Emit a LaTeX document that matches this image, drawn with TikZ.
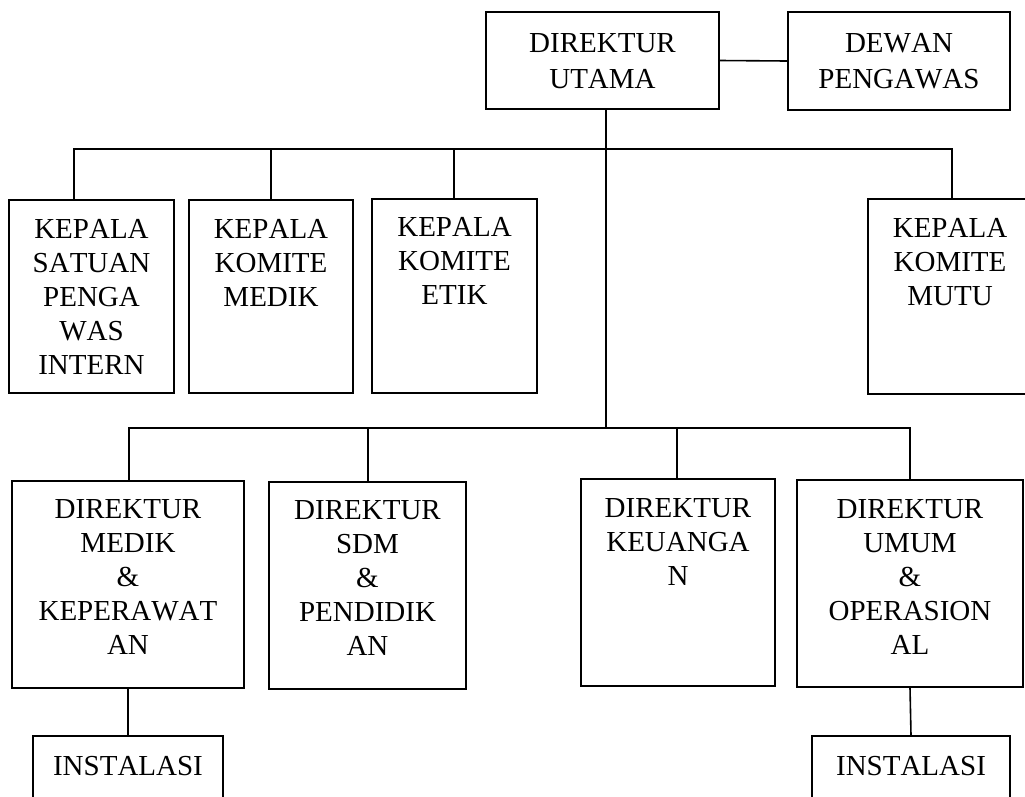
\documentclass[tikz,border=0pt]{standalone}
\usepackage{fontspec}
\setmainfont[Kerning=Off]{Liberation Serif}
\newcommand{\boxtxt}[5][34pt]{\begin{minipage}[t][#3][t]{#2}\fontsize{29pt}{#1}\selectfont\centering\rule{0pt}{#4}#5\end{minipage}}
\begin{document}
\begin{tikzpicture}[x=1pt,y=-1pt,
  orgbox/.style={draw, line width=1.6pt, inner sep=0pt, rectangle},
  conn/.style={line width=1.6pt}]
\clip (0,0) rectangle (1025,796);
\fill[white] (0,0) rectangle (1025,796);
% top level
\node[orgbox] (du) at (602.5,60.5) {\boxtxt[36pt]{233pt}{97pt}{40pt}{DIREKTUR\\UTAMA}};
\node[orgbox] (dewan) at (899,61) {\boxtxt[36pt]{222pt}{98pt}{40pt}{DEWAN\\PENGAWAS}};
% committees
\node[orgbox] (kspi) at (91.5,296.5) {\boxtxt{165pt}{193pt}{38pt}{KEPALA\\SATUAN\\PENGA\\WAS\\INTERN}};
\node[orgbox] (kkm) at (271,296.5) {\boxtxt{164pt}{193pt}{38pt}{KEPALA\\KOMITE\\MEDIK}};
\node[orgbox] (kke) at (454.5,296) {\boxtxt{165pt}{194pt}{37pt}{KEPALA\\KOMITE\\ETIK}};
\node[orgbox] (mutu) at (950,296.5) {\boxtxt{164pt}{195pt}{38pt}{KEPALA\\KOMITE\\MUTU}};
% directors
\node[orgbox] (dmk) at (128,584.5) {\boxtxt{232pt}{207pt}{37pt}{DIREKTUR\\MEDIK\\\&\\KEPERAWAT\\AN}};
\node[orgbox] (dsdm) at (367.5,585.5) {\boxtxt{197pt}{207pt}{37pt}{DIREKTUR\\SDM\\\&\\PENDIDIK\\AN}};
\node[orgbox] (keu) at (678,582.5) {\boxtxt{194pt}{207pt}{38pt}{DIREKTUR\\KEUANGA\\N}};
\node[orgbox] (duo) at (910,583.5) {\boxtxt{226pt}{207pt}{38pt}{DIREKTUR\\UMUM\\\&\\OPERASION\\AL}};
% installations
\node[orgbox] (inst1) at (128,790) {\boxtxt{190pt}{108pt}{39pt}{INSTALASI}};
\node[orgbox] (inst2) at (911,790) {\boxtxt{198pt}{108pt}{39pt}{INSTALASI}};
% bus coordinates
\coordinate (ubL) at (74,149);
\coordinate (u2) at (271,149);
\coordinate (u3) at (454,149);
\coordinate (ubR) at (952,149);
\coordinate (tr) at (606,149);
\coordinate (lb) at (606,428);
\coordinate (lbL) at (129,428);
\coordinate (l2) at (368,428);
\coordinate (l3) at (677,428);
\coordinate (lbR) at (910,428);
% connectors
\draw[conn] (du.east) -- (dewan.west);
\draw[conn] (du.south -| tr) -- (lb);
\draw[conn] (ubL |- kspi.north) -- (ubL) -- (ubR) -- (ubR |- mutu.north);
\draw[conn] (u2) -- (u2 |- kkm.north);
\draw[conn] (u3) -- (u3 |- kke.north);
\draw[conn] (lbL |- dmk.north) -- (lbL) -- (lbR) -- (lbR |- duo.north);
\draw[conn] (l2) -- (l2 |- dsdm.north);
\draw[conn] (l3) -- (l3 |- keu.north);
\draw[conn] (dmk.south) -- (inst1.north);
\draw[conn] (duo.south) -- (inst2.north);
\end{tikzpicture}
\end{document}
